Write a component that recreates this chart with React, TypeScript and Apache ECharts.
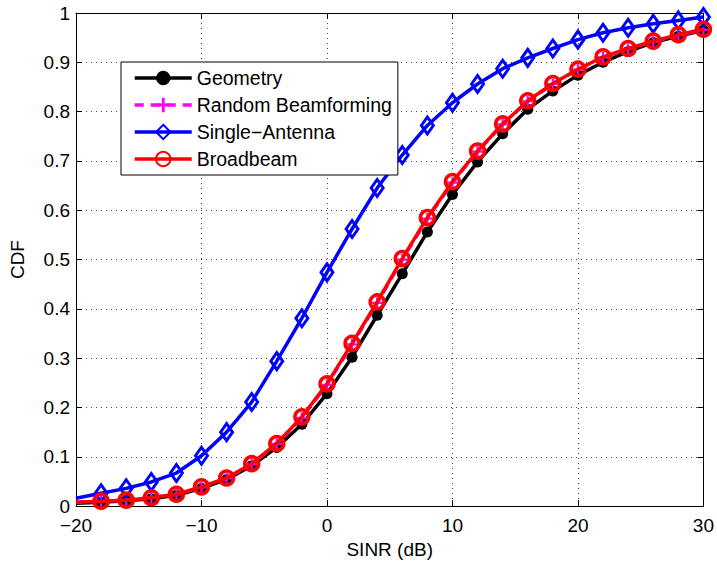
import React, { useEffect, useRef } from "react";
import * as echarts from "echarts";

const sinr = [-20, -18, -16, -14, -12, -10, -8, -6, -4, -2, 0, 2, 4, 6, 8, 10, 12, 14, 16, 18, 20, 22, 24, 26, 28, 30];
const geometry = [0.006, 0.008, 0.011, 0.015, 0.022, 0.036, 0.054, 0.082, 0.119, 0.166, 0.228, 0.302, 0.387, 0.471, 0.556, 0.632, 0.698, 0.755, 0.805, 0.842, 0.874, 0.900, 0.922, 0.940, 0.953, 0.965];
const randomBf = [0.008, 0.010, 0.012, 0.017, 0.024, 0.038, 0.056, 0.085, 0.126, 0.179, 0.246, 0.328, 0.412, 0.500, 0.583, 0.656, 0.719, 0.774, 0.821, 0.856, 0.885, 0.910, 0.927, 0.942, 0.955, 0.966];
const single = [0.016, 0.026, 0.036, 0.049, 0.067, 0.102, 0.150, 0.211, 0.294, 0.381, 0.474, 0.562, 0.645, 0.712, 0.772, 0.818, 0.856, 0.887, 0.909, 0.928, 0.946, 0.960, 0.970, 0.978, 0.985, 0.992];
const broadbeam = [0.008, 0.010, 0.012, 0.017, 0.024, 0.039, 0.057, 0.086, 0.127, 0.181, 0.248, 0.330, 0.414, 0.502, 0.585, 0.658, 0.720, 0.775, 0.822, 0.857, 0.886, 0.911, 0.928, 0.943, 0.956, 0.967];
const seriesNames = ["Geometry", "Random Beamforming", "Single\u2212Antenna", "Broadbeam"];

const FONT = "Liberation Sans, Arial, Helvetica, sans-serif";

function pts(vals: number[]) {
  return vals.map((v, i) => (i === 0 ? { value: [sinr[i], v], symbol: "none" } : { value: [sinr[i], v] }));
}

const fmtNum = (v: number) => (v < 0 ? "\u2212" + Math.abs(v) : String(v));

export default function App() {
  const ref = useRef<HTMLDivElement>(null);
  useEffect(() => {
    if (!ref.current) return;
    const chart = echarts.init(ref.current, null, { renderer: "svg" });
    const gridLine = { show: true, lineStyle: { color: "#444", type: [1, 4] as any, width: 1 } };
    const axisLine = { show: true, onZero: false, lineStyle: { color: "#000", width: 1 } };
    const tick = { show: true, inside: true, length: 6, lineStyle: { color: "#000" } };
    chart.setOption({
      animation: false,
      backgroundColor: "#fff",
      textStyle: { fontFamily: FONT },
      grid: { left: 76, right: 11, top: 13, bottom: 56, containLabel: false },
      legend: {
        left: 121,
        top: 62,
        orient: "vertical",
        backgroundColor: "#fff",
        borderColor: "#000",
        borderWidth: 1,
        borderRadius: 0,
        padding: [6, 6, 6, 12],
        itemGap: 7,
        itemWidth: 57,
        itemHeight: 18,
        lineStyle: { width: 3.5 },
        textStyle: { fontFamily: FONT, fontSize: 19.5, color: "#000", lineHeight: 20 },
        data: seriesNames,
        z: 10,
      },
      xAxis: [
        {
          type: "value",
          min: -20,
          max: 30,
          interval: 10,
          name: "SINR (dB)",
          nameLocation: "middle",
          nameGap: 30,
          nameTextStyle: { fontFamily: FONT, fontSize: 19, color: "#000" },
          axisLine,
          axisTick: tick,
          axisLabel: { color: "#000", fontSize: 19, fontFamily: FONT, margin: 10, formatter: fmtNum },
          splitLine: gridLine,
        },
        {
          type: "value",
          position: "top",
          min: -20,
          max: 30,
          interval: 10,
          axisLine,
          axisTick: tick,
          axisLabel: { show: false },
          splitLine: { show: false },
        },
      ],
      yAxis: [
        {
          type: "value",
          min: 0,
          max: 1,
          interval: 0.1,
          name: "CDF",
          nameLocation: "middle",
          nameGap: 49,
          nameTextStyle: { fontFamily: FONT, fontSize: 19, color: "#000" },
          axisLine,
          axisTick: tick,
          axisLabel: { color: "#000", fontSize: 19, fontFamily: FONT, margin: 6, formatter: (v: number) => String(Math.round(v * 10) / 10) },
          splitLine: gridLine,
        },
        {
          type: "value",
          position: "right",
          min: 0,
          max: 1,
          interval: 0.1,
          axisLine,
          axisTick: tick,
          axisLabel: { show: false },
          splitLine: { show: false },
        },
      ],
      series: [
        {
          name: seriesNames[0],
          type: "line",
          data: pts(geometry),
          clip: false,
          symbol: "circle",
          symbolSize: 11,
          lineStyle: { color: "#000", width: 3.5 },
          itemStyle: { color: "#000" },
          z: 2,
        },
        {
          name: seriesNames[1],
          type: "line",
          data: pts(randomBf),
          clip: false,
          symbol: "path://M4,0H6V4H10V6H6V10H4V6H0V4H4Z",
          symbolSize: 11,
          lineStyle: { color: "#ff00ff", width: 3.5, type: [9, 7] as any },
          itemStyle: { color: "#ff00ff" },
          z: 3,
        },
        {
          name: seriesNames[2],
          type: "line",
          data: pts(single),
          clip: false,
          symbol: "diamond",
          symbolSize: [12, 17],
          lineStyle: { color: "#0000ff", width: 3.5 },
          itemStyle: { color: "rgba(255,255,255,0)", borderColor: "#0000ff", borderWidth: 3 },
          z: 4,
        },
        {
          name: seriesNames[3],
          type: "line",
          data: pts(broadbeam),
          clip: false,
          symbol: "circle",
          symbolSize: 14,
          lineStyle: { color: "#ff0000", width: 3.5 },
          itemStyle: { color: "rgba(255,255,255,0)", borderColor: "#ff0000", borderWidth: 3.5 },
          z: 5,
        },
      ],
    });
    return () => chart.dispose();
  }, []);
  return <div ref={ref} style={{ width: 717, height: 564, position: "absolute", left: 0, top: 0 }} />;
}
